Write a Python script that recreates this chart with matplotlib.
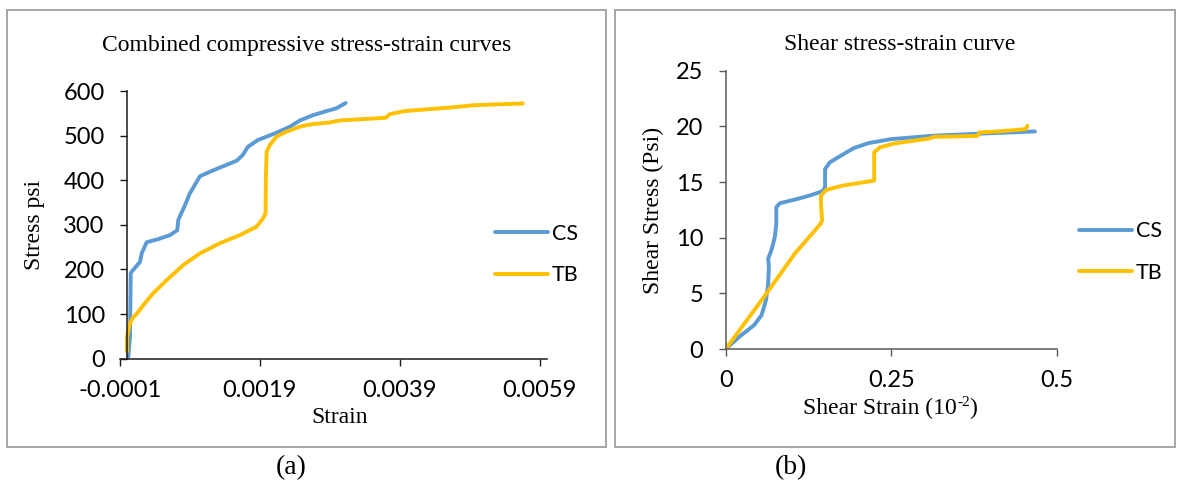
import matplotlib
matplotlib.use('Agg')
import matplotlib.pyplot as plt
from matplotlib.patches import Rectangle

# (a) combined compressive stress-strain
cs_strain = [0.0000186, 0.000043, 0.000053, 0.000067, 0.000186, 0.00021, 0.000281, 0.000447,
             0.000614, 0.000719, 0.000733, 0.000829, 0.0009, 0.001043, 0.001214, 0.001571,
             0.001657, 0.001729, 0.001871, 0.002114, 0.002329, 0.002472, 0.002663, 0.002853,
             0.00299, 0.003126]
cs_stress = [4.5, 49, 191, 195, 217, 236, 261, 268, 277, 288, 311, 344, 371, 409, 421, 444,
             457, 475, 490, 505, 520, 534, 546, 555, 561, 573]

tb_strain = [0.0, 0.0, 0.000043, 0.00009, 0.000147, 0.000233, 0.000376, 0.000567, 0.000804,
             0.001043, 0.001329, 0.001614, 0.001853, 0.001947, 0.001981, 0.001985, 0.001996,
             0.002043, 0.002139, 0.002281, 0.002471, 0.002554, 0.002663, 0.002881, 0.003045,
             0.003372, 0.003699, 0.003753, 0.00397, 0.004297, 0.004624, 0.004951, 0.005278,
             0.00566]
tb_stress = [16, 49, 80, 93, 102, 120, 147, 176, 210, 236, 259, 277, 296, 315, 326, 400, 464,
             479, 498, 509, 520, 523, 526, 529, 534, 537, 540, 548, 555, 559, 563, 568, 570, 572]

a_xticks = [-0.0001, 0.0019, 0.0039, 0.0059]
a_xlabels = ['-0.0001', '0.0019', '0.0039', '0.0059']
a_yticks = [0, 100, 200, 300, 400, 500, 600]

# (b) shear stress-strain
cs_shear_strain = [0, 0.0206, 0.0429, 0.0541, 0.0608, 0.0641, 0.0652, 0.0641, 0.0697, 0.0741,
                   0.0764, 0.0764, 0.0819, 0.1042, 0.1265, 0.146, 0.15, 0.15, 0.1572, 0.1711,
                   0.1934, 0.2157, 0.2492, 0.3105, 0.3885, 0.4666]
cs_shear_stress = [0, 1.1, 2.15, 3.04, 4.39, 5.88, 7.37, 8.11, 9.01, 10.05, 11.25, 12.74, 13.1,
                   13.42, 13.78, 14.17, 14.53, 16.17, 16.77, 17.27, 18.05, 18.5, 18.85, 19.15,
                   19.36, 19.54]

tb_shear_strain = [0, 0.0596, 0.1042, 0.1433, 0.1455, 0.1438, 0.1438, 0.1516, 0.1767, 0.199,
                   0.2241, 0.2241, 0.2325, 0.2548, 0.2826, 0.3077, 0.3133, 0.3439, 0.3801,
                   0.3829, 0.4108, 0.4526, 0.4554]
tb_shear_stress = [0, 4.83, 8.56, 11.25, 11.55, 13.04, 13.78, 14.29, 14.68, 14.89, 15.13, 17.66,
                   18.11, 18.47, 18.7, 18.91, 19.06, 19.09, 19.15, 19.45, 19.54, 19.75, 20.05]

b_xticks = [0, 0.25, 0.5]
b_xlabels = ['0', '0.25', '0.5']
b_yticks = [0, 5, 10, 15, 20, 25]

BLUE = '#5B9BD5'
GOLD = '#FFC000'
SERIF = 'Liberation Serif'

plt.rcParams['font.family'] = ['Lato', 'DejaVu Sans']

W, H = 1178.0, 486.0
def fx(px): return px / W
def fy(py): return 1 - py / H

fig = plt.figure(figsize=(11.78, 4.86), dpi=100)

# panel frames
for x0, x1 in [(7, 606), (615, 1175)]:
    fig.add_artist(Rectangle((fx(x0), fy(447)), (x1 - x0) / W, (447 - 10) / H,
                             transform=fig.transFigure, fill=False, ec='#a6a6a6', lw=1.4))

def style_axes(ax, spine_col):
    ax.spines['top'].set_visible(False)
    ax.spines['right'].set_visible(False)
    for s in ['left', 'bottom']:
        ax.spines[s].set_color(spine_col)
        ax.spines[s].set_linewidth(1.1)
    ax.tick_params(direction='out', length=5, width=1.0, color=spine_col, labelsize=17)
    ax.tick_params(axis='y', pad=11)
    ax.tick_params(axis='x', pad=10)
    ax.patch.set_visible(False)

# ---- (a)
ax_a = fig.add_axes([fx(120), fy(358.7), (546.7 - 120) / W, (358.7 - 91) / H])
ax_a.plot(cs_strain, cs_stress, color=BLUE, lw=2.8, label='CS', solid_capstyle='round')
ax_a.plot(tb_strain, tb_stress, color=GOLD, lw=2.8, label='TB', solid_capstyle='round')
ax_a.set_xlim(-0.0001, 0.006)
ax_a.set_ylim(0, 600)
ax_a.spines['left'].set_position(('data', 0))
ax_a.set_xticks(a_xticks)
ax_a.set_xticklabels(a_xlabels)
ax_a.set_yticks(a_yticks)
style_axes(ax_a, '#1a1a1a')
ax_a.legend(loc='center left', bbox_to_anchor=(fx(495), fy(254.4)), bbox_transform=fig.transFigure,
            frameon=False, fontsize=15.5, handlelength=2.45, handletextpad=0.2, labelspacing=1.0,
            borderpad=0, borderaxespad=0)

fig.text(fx(307), fy(45), 'Combined compressive stress-strain curves', family=SERIF, fontsize=17,
         ha='center', va='center')
fig.text(fx(340), fy(417), 'Strain', family=SERIF, fontsize=17, ha='center', va='center')
fig.text(fx(34.5), fy(225), 'Stress psi', family=SERIF, fontsize=17, ha='center', va='center',
         rotation=90)
fig.text(fx(291), fy(468), '(a)', family=SERIF, fontsize=20, ha='center', va='center')

# ---- (b)
ax_b = fig.add_axes([fx(725.7), fy(349), (1057 - 725.7) / W, (349 - 70.7) / H])
ax_b.plot(cs_shear_strain, cs_shear_stress, color=BLUE, lw=2.8, label='CS', solid_capstyle='round')
ax_b.plot(tb_shear_strain, tb_shear_stress, color=GOLD, lw=2.8, label='TB', solid_capstyle='round')
ax_b.set_xlim(0, 0.5)
ax_b.set_ylim(0, 25)
ax_b.set_xticks(b_xticks)
ax_b.set_xticklabels(b_xlabels)
ax_b.set_yticks(b_yticks)
style_axes(ax_b, '#595959')
ax_b.legend(loc='center left', bbox_to_anchor=(fx(1079), fy(252)), bbox_transform=fig.transFigure,
            frameon=False, fontsize=15.5, handlelength=2.45, handletextpad=0.2, labelspacing=1.0,
            borderpad=0, borderaxespad=0)

fig.text(fx(900), fy(45), 'Shear stress-strain curve', family=SERIF, fontsize=17,
         ha='center', va='center')
# label with a small raised "-2" drawn as its own text
fig.text(fx(957), fy(408), 'Shear Strain (10', family=SERIF, fontsize=17,
         ha='right', va='center')
fig.text(fx(957), fy(402), '-2', family=SERIF, fontsize=11, ha='left', va='center')
fig.text(fx(969), fy(408), ')', family=SERIF, fontsize=17, ha='left', va='center')
fig.text(fx(653), fy(210), 'Shear Stress (Psi)', family=SERIF, fontsize=17, ha='center',
         va='center', rotation=90)
fig.text(fx(791), fy(468), '(b)', family=SERIF, fontsize=20, ha='center', va='center')

fig.savefig('out.png', dpi=100)
